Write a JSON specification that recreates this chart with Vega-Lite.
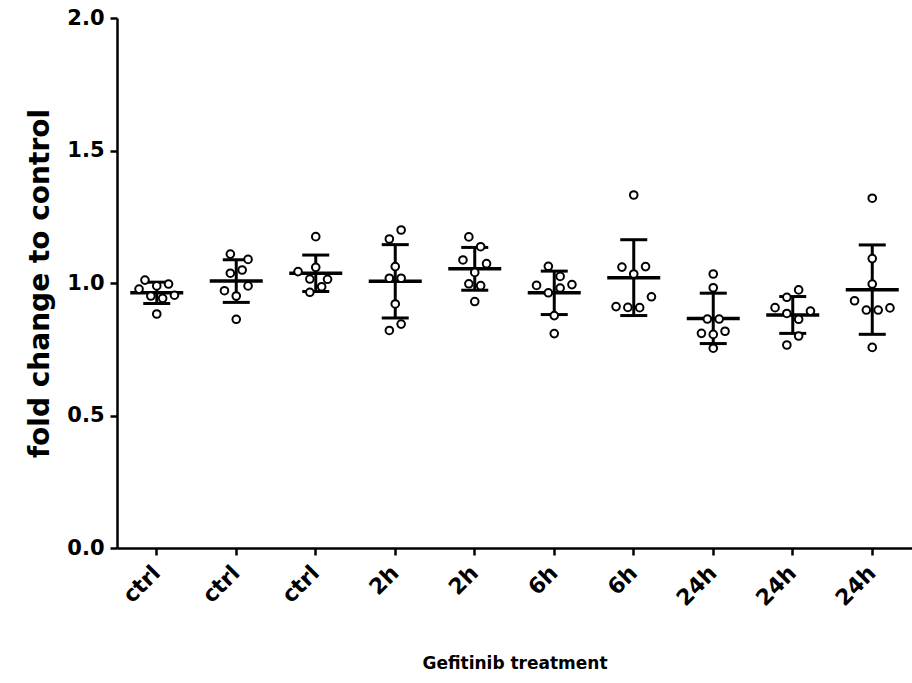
{
  "$schema": "https://vega.github.io/schema/vega-lite/v6.json",
  "width": 795,
  "height": 530,
  "autosize": "none",
  "padding": {"left": 117, "top": 18, "right": 0, "bottom": 135},
  "background": "white",
  "data": {
    "values": [
      {"grp": "ctrl 1", "v": 1.011, "slot": -2}, {"grp": "ctrl 1", "v": 0.977, "slot": -3}, {"grp": "ctrl 1", "v": 0.989, "slot": 0}, {"grp": "ctrl 1", "v": 0.996, "slot": 2},
      {"grp": "ctrl 1", "v": 0.951, "slot": -1}, {"grp": "ctrl 1", "v": 0.942, "slot": 1}, {"grp": "ctrl 1", "v": 0.954, "slot": 3}, {"grp": "ctrl 1", "v": 0.883, "slot": 0},
      {"grp": "ctrl 2", "v": 1.109, "slot": -1}, {"grp": "ctrl 2", "v": 1.089, "slot": 2}, {"grp": "ctrl 2", "v": 1.049, "slot": 1}, {"grp": "ctrl 2", "v": 1.037, "slot": -1},
      {"grp": "ctrl 2", "v": 0.989, "slot": 2}, {"grp": "ctrl 2", "v": 0.971, "slot": -2}, {"grp": "ctrl 2", "v": 0.951, "slot": 0}, {"grp": "ctrl 2", "v": 0.863, "slot": 0},
      {"grp": "ctrl 3", "v": 1.175, "slot": 0}, {"grp": "ctrl 3", "v": 1.043, "slot": -3}, {"grp": "ctrl 3", "v": 1.059, "slot": 0}, {"grp": "ctrl 3", "v": 1.015, "slot": -1},
      {"grp": "ctrl 3", "v": 1.014, "slot": 2}, {"grp": "ctrl 3", "v": 0.986, "slot": 1}, {"grp": "ctrl 3", "v": 0.965, "slot": -1},
      {"grp": "2h 1", "v": 1.2, "slot": 1}, {"grp": "2h 1", "v": 1.166, "slot": -1}, {"grp": "2h 1", "v": 1.062, "slot": 0}, {"grp": "2h 1", "v": 1.018, "slot": -1},
      {"grp": "2h 1", "v": 1.018, "slot": 1}, {"grp": "2h 1", "v": 0.921, "slot": 0}, {"grp": "2h 1", "v": 0.845, "slot": 1}, {"grp": "2h 1", "v": 0.821, "slot": -1},
      {"grp": "2h 2", "v": 1.174, "slot": -1}, {"grp": "2h 2", "v": 1.137, "slot": 1}, {"grp": "2h 2", "v": 1.087, "slot": -2}, {"grp": "2h 2", "v": 1.073, "slot": 2},
      {"grp": "2h 2", "v": 1.04, "slot": 0}, {"grp": "2h 2", "v": 0.997, "slot": -1}, {"grp": "2h 2", "v": 0.99, "slot": 1}, {"grp": "2h 2", "v": 0.93, "slot": 0},
      {"grp": "6h 1", "v": 1.063, "slot": -1}, {"grp": "6h 1", "v": 1.025, "slot": 1}, {"grp": "6h 1", "v": 0.991, "slot": -3}, {"grp": "6h 1", "v": 0.981, "slot": 1},
      {"grp": "6h 1", "v": 0.994, "slot": 3}, {"grp": "6h 1", "v": 0.963, "slot": -1}, {"grp": "6h 1", "v": 0.877, "slot": 0}, {"grp": "6h 1", "v": 0.809, "slot": 0},
      {"grp": "6h 2", "v": 1.332, "slot": 0}, {"grp": "6h 2", "v": 1.06, "slot": -2}, {"grp": "6h 2", "v": 1.062, "slot": 2}, {"grp": "6h 2", "v": 1.034, "slot": 0},
      {"grp": "6h 2", "v": 0.948, "slot": 3}, {"grp": "6h 2", "v": 0.907, "slot": 1}, {"grp": "6h 2", "v": 0.908, "slot": -1}, {"grp": "6h 2", "v": 0.911, "slot": -3},
      {"grp": "24h 1", "v": 1.034, "slot": 0}, {"grp": "24h 1", "v": 0.982, "slot": 0}, {"grp": "24h 1", "v": 0.864, "slot": -1}, {"grp": "24h 1", "v": 0.864, "slot": 1},
      {"grp": "24h 1", "v": 0.81, "slot": -2}, {"grp": "24h 1", "v": 0.806, "slot": 0}, {"grp": "24h 1", "v": 0.818, "slot": 2}, {"grp": "24h 1", "v": 0.754, "slot": 0},
      {"grp": "24h 2", "v": 0.974, "slot": 1}, {"grp": "24h 2", "v": 0.946, "slot": -1}, {"grp": "24h 2", "v": 0.907, "slot": -3}, {"grp": "24h 2", "v": 0.894, "slot": 3},
      {"grp": "24h 2", "v": 0.885, "slot": -1}, {"grp": "24h 2", "v": 0.863, "slot": 1}, {"grp": "24h 2", "v": 0.8, "slot": 1}, {"grp": "24h 2", "v": 0.766, "slot": -1},
      {"grp": "24h 3", "v": 1.32, "slot": 0}, {"grp": "24h 3", "v": 1.092, "slot": 0}, {"grp": "24h 3", "v": 0.996, "slot": 0}, {"grp": "24h 3", "v": 0.933, "slot": -3},
      {"grp": "24h 3", "v": 0.898, "slot": -1}, {"grp": "24h 3", "v": 0.898, "slot": 1}, {"grp": "24h 3", "v": 0.906, "slot": 3}, {"grp": "24h 3", "v": 0.757, "slot": 0}
    ]
  },
  "encoding": {
    "x": {
      "field": "grp",
      "type": "nominal",
      "sort": ["ctrl 1", "ctrl 2", "ctrl 3", "2h 1", "2h 2", "6h 1", "6h 2", "24h 1", "24h 2", "24h 3"],
      "scale": {"paddingInner": 0, "paddingOuter": 0},
      "axis": {
        "title": "Gefitinib treatment",
        "labelExpr": "split(datum.label, ' ')[0]",
        "labelAngle": -45,
        "labelAlign": "right",
        "labelBaseline": "middle",
        "labelPadding": 14,
        "labelFontSize": 22,
        "titleFontSize": 17,
        "titlePadding": 46
      }
    }
  },
  "layer": [
    {
      "mark": {
        "type": "errorbar",
        "extent": "stdev",
        "color": "black",
        "opacity": 1,
        "ticks": {"size": 27, "thickness": 3, "color": "black", "opacity": 1},
        "rule": {"strokeWidth": 3, "color": "black", "opacity": 1}
      },
      "encoding": {
        "y": {
          "field": "v",
          "type": "quantitative",
          "scale": {"domain": [0, 2]},
          "axis": {
            "title": "fold change to control",
            "values": [0, 0.5, 1, 1.5, 2],
            "format": ".1f",
            "titleFontSize": 28,
            "titlePadding": 12
          }
        }
      }
    },
    {
      "mark": {"type": "tick", "color": "black", "size": 53, "thickness": 3.5, "opacity": 1},
      "encoding": {
        "y": {"aggregate": "mean", "field": "v", "type": "quantitative"}
      }
    },
    {
      "mark": {"type": "point", "shape": "circle", "fill": "white", "stroke": "black", "strokeWidth": 2, "opacity": 1, "size": 58},
      "encoding": {
        "xOffset": {"field": "slot", "type": "quantitative", "scale": {"domain": [-3, 3], "range": [22.05, 57.45]}},
        "y": {"field": "v", "type": "quantitative"}
      }
    }
  ],
  "config": {
    "view": {"stroke": null},
    "font": "DejaVu Sans",
    "axis": {
      "grid": false,
      "domainColor": "black",
      "domainWidth": 2.5,
      "tickColor": "black",
      "tickWidth": 2.5,
      "tickSize": 7,
      "labelFont": "DejaVu Sans",
      "labelFontWeight": "bold",
      "labelFontSize": 21,
      "labelColor": "black",
      "labelPadding": 6,
      "titleFont": "DejaVu Sans",
      "titleFontWeight": "bold",
      "titleColor": "black"
    }
  }
}
